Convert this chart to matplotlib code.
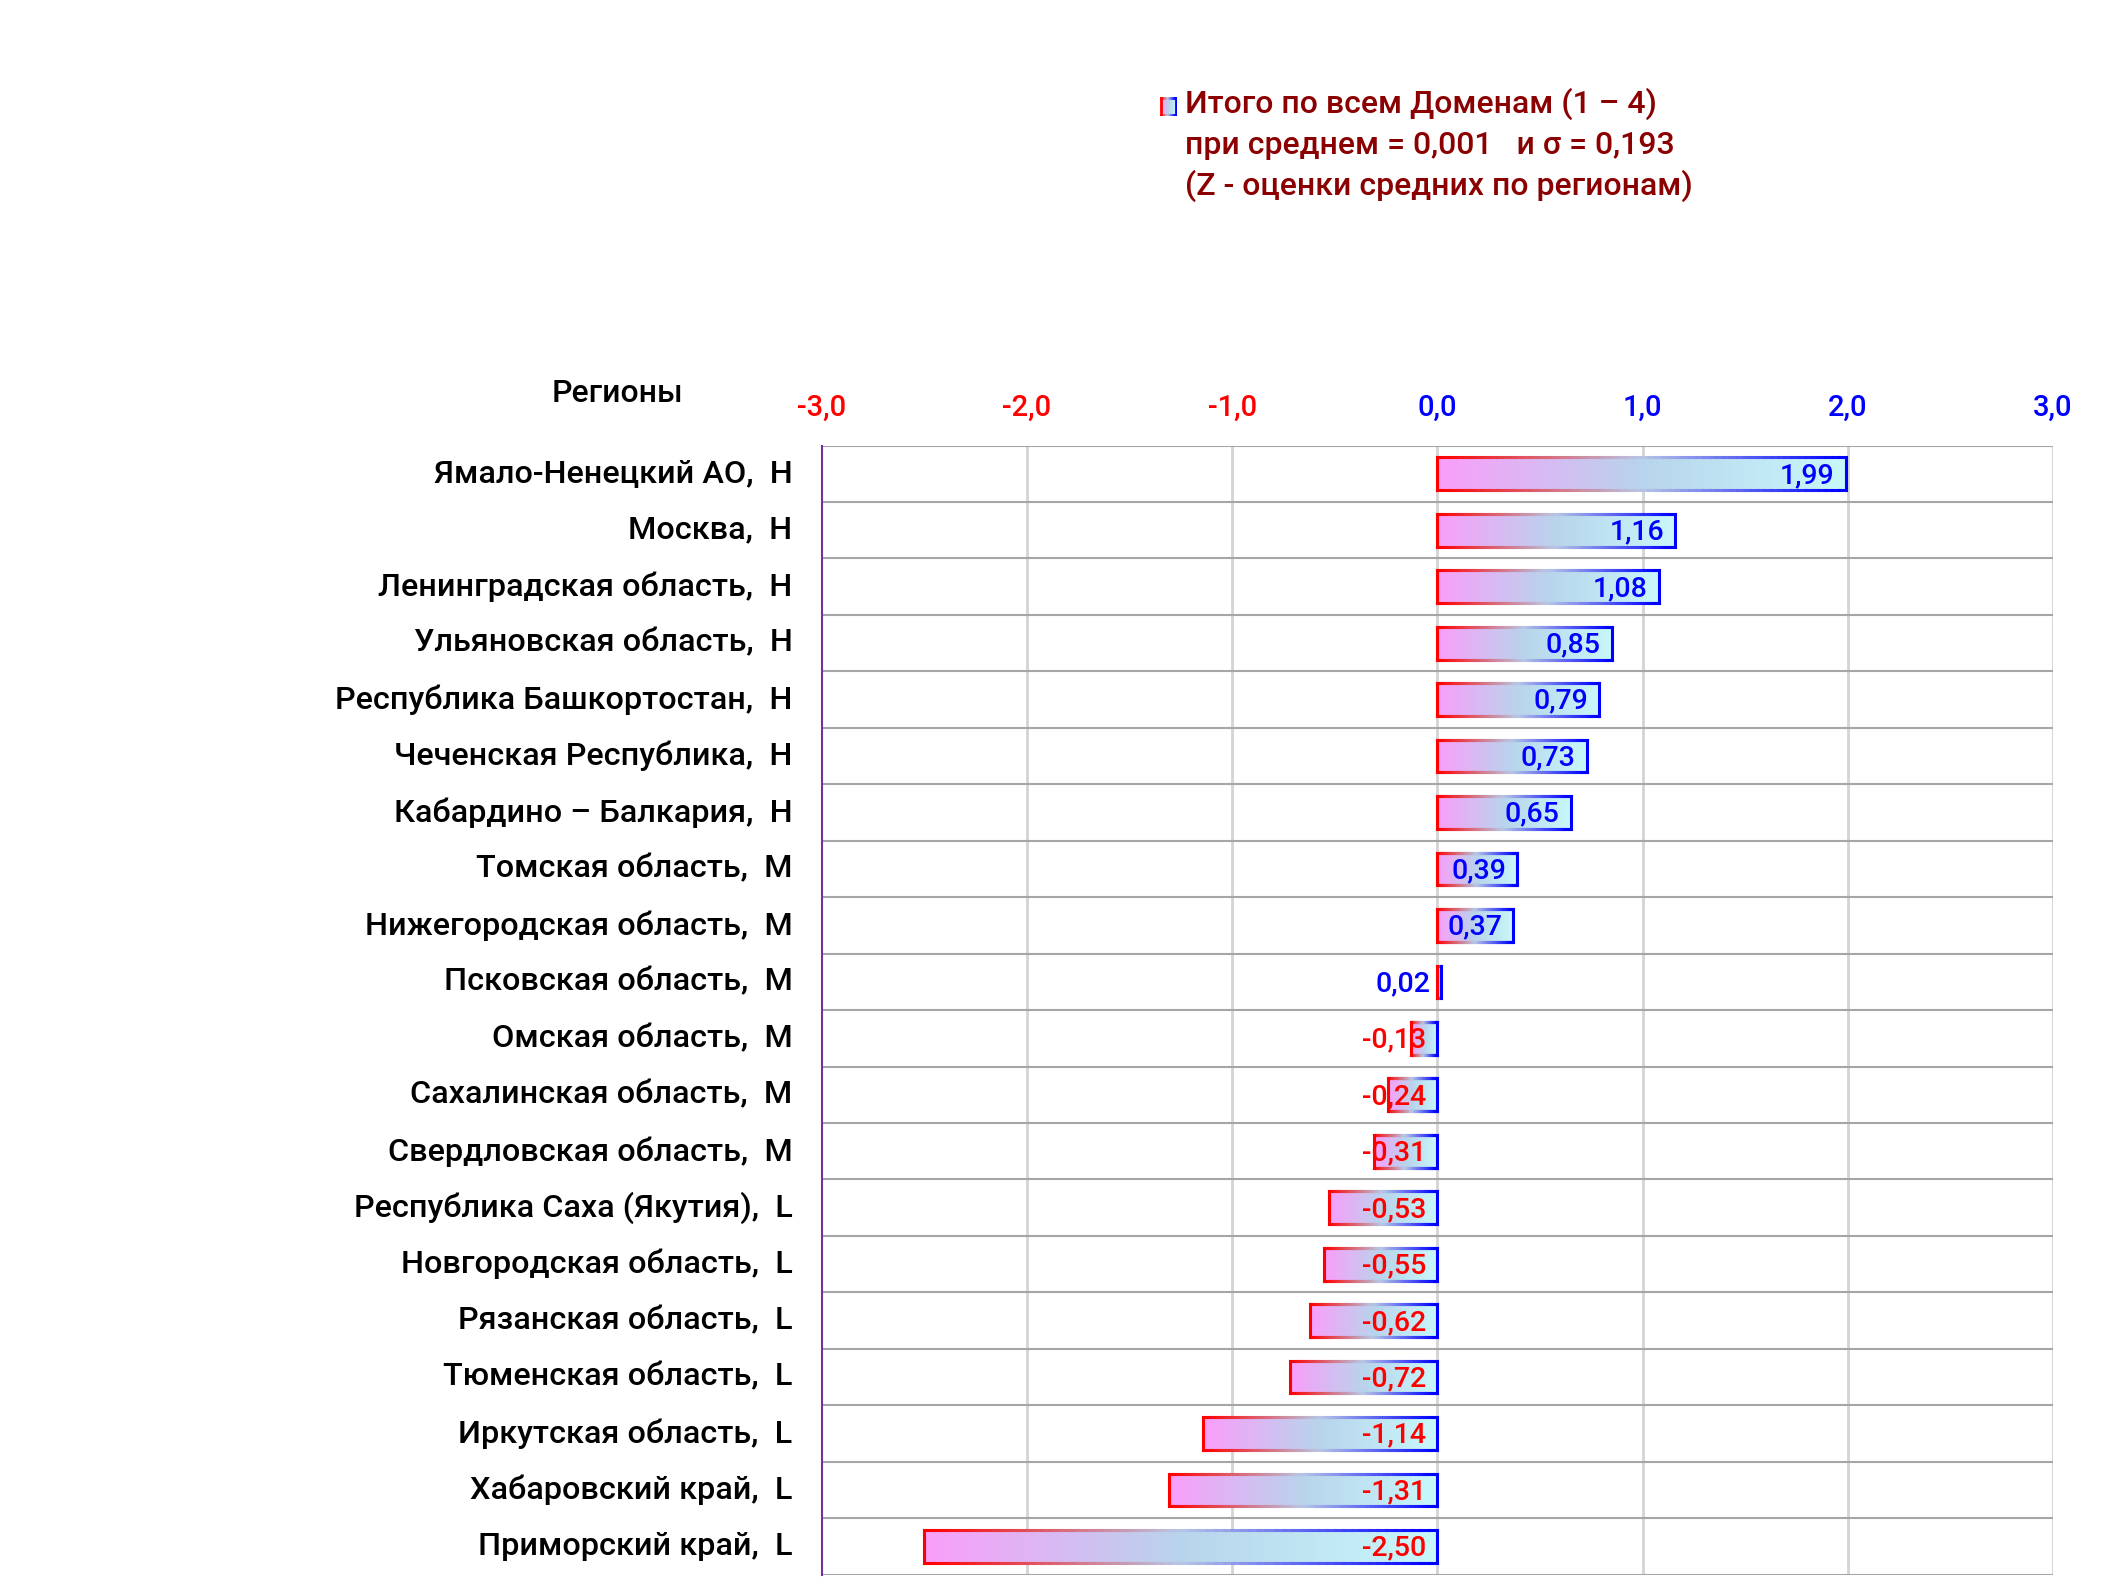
import numpy as np
import matplotlib
matplotlib.use("Agg")
import matplotlib.pyplot as plt
import matplotlib.transforms as mtransforms
from matplotlib.collections import LineCollection
from matplotlib.colors import LinearSegmentedColormap

plt.rcParams['font.family'] = ['Roboto', 'DejaVu Sans']

regions = ["Ямало-Ненецкий АО,  Н", "Москва,  Н", "Ленинградская область,  Н",
           "Ульяновская область,  Н", "Республика Башкортостан,  Н",
           "Чеченская Республика,  Н", "Кабардино – Балкария,  Н",
           "Томская область,  М", "Нижегородская область,  М",
           "Псковская область,  М", "Омская область,  М",
           "Сахалинская область,  М", "Свердловская область,  М",
           "Республика Саха (Якутия),  L", "Новгородская область,  L",
           "Рязанская область,  L", "Тюменская область,  L",
           "Иркутская область,  L", "Хабаровский край,  L", "Приморский край,  L"]
values = [1.99, 1.16, 1.08, 0.85, 0.79, 0.73, 0.65, 0.39, 0.37, 0.02,
          -0.13, -0.24, -0.31, -0.53, -0.55, -0.62, -0.72, -1.14, -1.31, -2.50]
xticks = [-3, -2, -1, 0, 1, 2, 3]
xticklabels = ["-3,0", "-2,0", "-1,0", "0,0", "1,0", "2,0", "3,0"]
legend_lines = ["Итого по всем Доменам (1 – 4)",
                "при среднем = 0,001   и σ = 0,193",
                "(Z - оценки средних по регионам)"]

fill_cmap = LinearSegmentedColormap.from_list(
    "fill", [(0, (250/255, 158/255, 250/255)), (0.5, (184/255, 212/255, 236/255)),
             (1, (200/255, 248/255, 250/255))])
edge_cmap = LinearSegmentedColormap.from_list(
    "edge", [(0, (1, 0, 0)), (0.5, (0.72, 0.78, 0.9)), (1, (0, 0, 1))])

fig = plt.figure(figsize=(21.25, 15.94), dpi=100)
ax = fig.add_axes([0.3867, 0.0121, 0.5794, 0.7084])

n = len(values)
ax.set_xlim(-3, 3)
ax.set_ylim(n - 0.5, -0.5)
bh = 0.58
grad = np.linspace(0, 1, 256).reshape(1, -1)


def draw_bar(ax, x0, x1, yc, h, lw=2.2):
    ax.imshow(grad, cmap=fill_cmap, extent=[x0, x1, yc + h / 2, yc - h / 2],
              aspect='auto', interpolation='bilinear', zorder=3)
    m = 60
    xs = np.linspace(x0, x1, m + 1)
    segs = []
    cols = []
    for yy in (yc - h / 2, yc + h / 2):
        for i in range(m):
            segs.append([(xs[i], yy), (xs[i + 1], yy)])
            cols.append(edge_cmap(i / (m - 1)))
    segs.append([(x0, yc - h / 2), (x0, yc + h / 2)])
    cols.append((1, 0, 0, 1))
    segs.append([(x1, yc - h / 2), (x1, yc + h / 2)])
    cols.append((0, 0, 1, 1))
    lc = LineCollection(segs, colors=cols, linewidths=lw, zorder=4,
                        capstyle='projecting')
    ax.add_collection(lc)


for i, v in enumerate(values):
    x0, x1 = min(0, v), max(0, v)
    draw_bar(ax, x0, x1, i, bh)
    col = 'blue' if v >= 0 else 'red'
    lab = f"{v:.2f}".replace('.', ',')
    ax.text(max(v, 0) - 0.055, i + 0.03, lab, ha='right', va='center',
            color=col, fontsize=20.5, fontweight='medium', zorder=5)

# grid
for xv in xticks[1:]:
    ax.axvline(xv, color='#d4d4d4', lw=2.0, zorder=1)
for k in range(n + 1):
    ax.axhline(k - 0.5, color='#a6a6a6', lw=1.5, zorder=1)

for s in ['top', 'bottom', 'right']:
    ax.spines[s].set_visible(False)
ax.spines['left'].set_color('#7030a0')
ax.spines['left'].set_linewidth(1.5)

ax.xaxis.tick_top()
ax.set_xticks(xticks)
ax.set_xticklabels(xticklabels, fontsize=21, fontweight='medium')
for t, xv in zip(ax.get_xticklabels(), xticks):
    t.set_color('red' if xv < 0 else 'blue')
ax.tick_params(axis='x', length=0, pad=17)
ax.set_yticks(range(n))
ax.set_yticklabels(regions, fontsize=23.3, fontweight='medium')
ax.tick_params(axis='y', length=0, pad=21)
shift = mtransforms.ScaledTranslation(0, 3 / 100, fig.dpi_scale_trans)
for t in ax.get_yticklabels():
    t.set_transform(t.get_transform() + shift)

fig.text(618 / 2125, 1 - 394 / 1594, "Регионы", fontsize=23, fontweight='medium',
         ha='center', va='center')

# legend
for j, line in enumerate(legend_lines):
    fig.text(1185 / 2125, 1 - (104 + j * 41) / 1594, line, fontsize=23,
             fontweight='medium', color='#8b0000', ha='left', va='center')
lax = fig.add_axes([1160 / 2125, 1 - 116 / 1594, 17 / 2125, 19 / 1594])
lax.axis('off')
draw_bar(lax, 0.05, 0.95, 0.5, 0.9, lw=2.0)
lax.set_xlim(0, 1)
lax.set_ylim(0, 1)

fig.savefig("out.png", dpi=100)
